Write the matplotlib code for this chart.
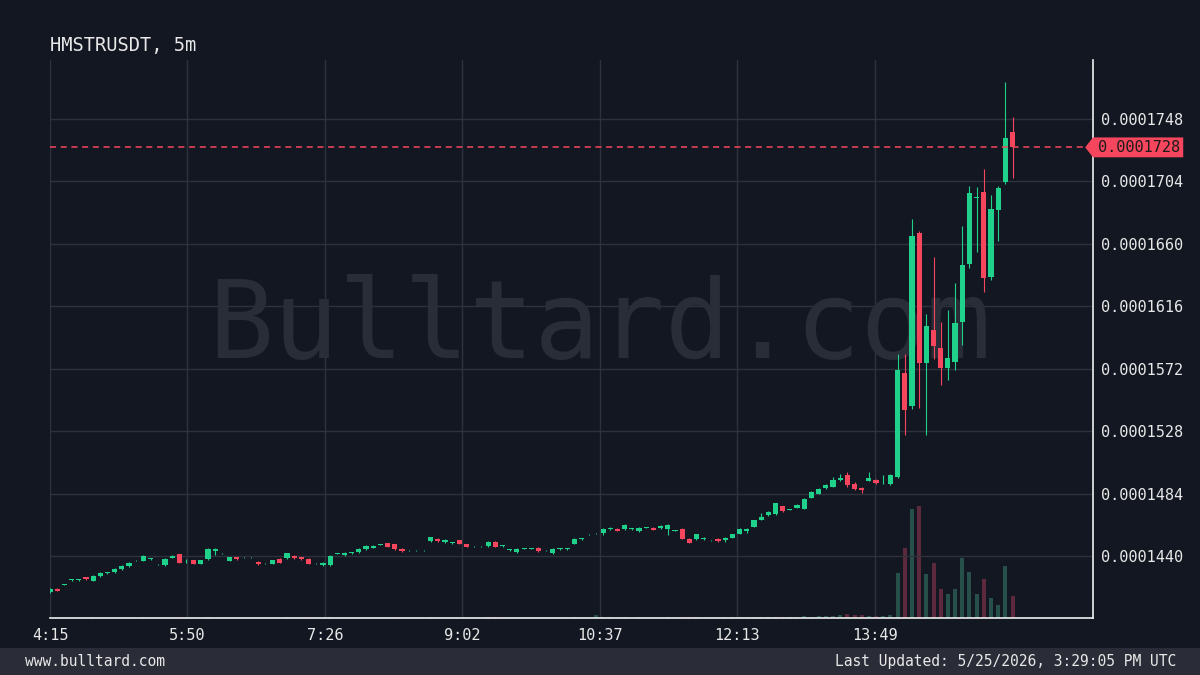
import matplotlib
matplotlib.use("Agg")
import matplotlib.pyplot as plt
import matplotlib.transforms as mtransforms
from matplotlib.patches import Polygon, Rectangle
import numpy as np

plt.rcParams['font.family'] = ['DejaVu Sans Mono', 'DejaVu Sans']

title = "HMSTRUSDT, 5m"
time_labels = ["4:15", "5:50", "7:26", "9:02", "10:37", "12:13", "13:49"]
price_levels = [1440, 1484, 1528, 1572, 1616, 1660, 1704, 1748]  # x 1e-7 USDT
last_price = 1728.0
footer_left = "www.bulltard.com"
footer_right = "Last Updated: 5/25/2026, 3:29:05 PM UTC"
watermark = "Bulltard.com"

# OHLC of the 5m candles from 4:15, prices in 1e-7 USDT
opens = [1415.0, 1417.3, 1420.2, 1423.3, 1423.4, 1425.4, 1423.0, 1426.3, 1428.3, 1428.9,
         1431.0, 1433.1, 1437.2, 1437.1, 1438.1, 1434.4, 1434.0, 1439.2, 1441.6, 1436.5,
         1437.3, 1434.9, 1438.0, 1443.9, 1442.2, 1437.1, 1439.4, 1439.3, 1439.3, 1436.3,
         1435.1, 1434.9, 1438.2, 1438.7, 1440.4, 1439.4, 1438.5, 1435.1, 1433.8, 1434.0,
         1441.9, 1440.9, 1442.4, 1443.0, 1445.1, 1446.2, 1448.2, 1449.3, 1448.6, 1445.5,
         1444.3, 1444.3, 1444.3, 1450.9, 1452.5, 1450.0, 1449.4, 1451.4, 1448.6, 1447.1,
         1447.1, 1447.2, 1450.4, 1447.3, 1444.5, 1443.0, 1445.4, 1445.4, 1446.3, 1444.3,
         1442.3, 1445.2, 1445.2, 1449.0, 1452.2, 1455.5, 1456.2, 1456.5, 1459.2, 1459.4,
         1459.2, 1459.3, 1457.7, 1460.2, 1460.3, 1460.1, 1459.2, 1458.1, 1459.4, 1452.5,
         1452.1, 1452.1, 1451.3, 1452.3, 1451.8, 1453.2, 1456.1, 1458.0, 1461.0, 1465.9,
         1469.0, 1469.9, 1475.3, 1472.9, 1474.2, 1473.7, 1481.4, 1484.2, 1488.0, 1489.1,
         1493.7, 1497.2, 1491.3, 1488.4, 1493.2, 1493.9, 1491.4, 1490.7, 1496.0, 1569.4,
         1546.2, 1667.5, 1576.0, 1599.5, 1586.6, 1572.9, 1577.1, 1604.9, 1645.9, 1692.4,
         1696.4, 1637.0, 1683.9, 1703.9, 1738.6]
closes = [1417.1, 1415.9, 1420.5, 1423.6, 1423.6, 1424.0, 1426.3, 1428.4, 1428.5, 1431.4,
          1433.5, 1435.6, 1437.4, 1440.6, 1438.3, 1434.6, 1438.5, 1440.6, 1435.6, 1436.7,
          1434.9, 1437.3, 1445.5, 1445.3, 1442.4, 1439.4, 1438.0, 1439.5, 1439.5, 1434.7,
          1435.3, 1437.3, 1435.6, 1442.3, 1438.8, 1438.0, 1434.9, 1435.3, 1435.4, 1440.4,
          1442.1, 1442.5, 1442.6, 1445.5, 1447.4, 1447.6, 1448.4, 1446.9, 1445.1, 1443.9,
          1444.5, 1444.5, 1444.5, 1453.5, 1450.9, 1451.6, 1449.6, 1449.0, 1446.9, 1447.3,
          1447.3, 1450.4, 1446.9, 1447.5, 1444.7, 1445.5, 1445.6, 1445.6, 1443.9, 1444.5,
          1445.3, 1445.4, 1445.4, 1452.5, 1452.4, 1455.7, 1456.4, 1459.4, 1460.3, 1458.0,
          1462.4, 1459.5, 1460.3, 1460.4, 1458.9, 1461.5, 1462.4, 1458.3, 1452.5, 1449.7,
          1455.6, 1453.2, 1451.5, 1450.9, 1453.2, 1455.6, 1459.4, 1459.4, 1465.5, 1467.8,
          1471.3, 1477.5, 1472.0, 1473.1, 1476.3, 1480.7, 1485.6, 1487.5, 1490.6, 1493.7,
          1495.3, 1490.3, 1487.7, 1487.0, 1495.3, 1491.5, 1491.6, 1497.4, 1571.3, 1543.1,
          1665.6, 1576.0, 1602.5, 1588.2, 1572.9, 1579.5, 1604.2, 1645.2, 1695.9, 1692.8,
          1636.3, 1684.4, 1699.6, 1734.4, 1728.0]
highs = [1417.5, 1417.7, 1420.9, 1424.0, 1424.0, 1425.8, 1426.7, 1428.8, 1428.9, 1431.8,
         1433.9, 1436.0, 1437.8, 1441.0, 1438.7, 1435.0, 1438.9, 1441.0, 1442.0, 1438.0,
         1437.7, 1437.7, 1445.9, 1445.7, 1442.8, 1439.8, 1439.8, 1439.9, 1439.9, 1436.7,
         1435.7, 1437.7, 1438.6, 1442.7, 1440.8, 1439.8, 1438.9, 1435.7, 1435.8, 1440.8,
         1442.5, 1442.9, 1443.0, 1445.9, 1447.8, 1448.0, 1448.8, 1449.7, 1449.0, 1445.9,
         1444.9, 1444.9, 1444.9, 1453.9, 1452.9, 1452.0, 1450.0, 1451.8, 1449.0, 1447.7,
         1447.7, 1450.8, 1450.8, 1447.9, 1445.1, 1445.9, 1446.0, 1446.0, 1446.7, 1444.9,
         1445.7, 1445.8, 1445.8, 1452.9, 1452.8, 1456.1, 1456.8, 1459.8, 1460.7, 1459.8,
         1462.8, 1459.9, 1460.7, 1460.8, 1460.7, 1461.9, 1462.8, 1458.7, 1459.8, 1452.9,
         1456.0, 1453.6, 1451.9, 1452.7, 1453.6, 1456.0, 1459.8, 1459.8, 1465.9, 1470.4,
         1471.7, 1477.9, 1475.7, 1473.5, 1476.7, 1481.1, 1486.0, 1487.9, 1491.0, 1496.0,
         1498.1, 1499.7, 1492.5, 1488.8, 1499.3, 1494.3, 1497.4, 1497.8, 1582.6, 1582.6,
         1677.4, 1669.0, 1610.7, 1650.6, 1605.0, 1613.5, 1632.3, 1672.7, 1700.8, 1700.3,
         1712.6, 1694.5, 1701.0, 1774.3, 1749.6]
lows = [1414.6, 1415.5, 1419.8, 1422.9, 1423.0, 1423.6, 1422.6, 1425.9, 1427.9, 1428.5,
        1430.6, 1432.7, 1436.8, 1436.7, 1437.7, 1434.0, 1433.6, 1438.8, 1435.2, 1435.6,
        1434.5, 1434.5, 1437.6, 1441.1, 1441.8, 1436.7, 1437.6, 1438.9, 1438.9, 1434.3,
        1434.7, 1434.5, 1435.2, 1438.3, 1438.4, 1437.6, 1434.5, 1434.7, 1433.4, 1433.6,
        1441.5, 1440.5, 1442.0, 1442.6, 1444.7, 1445.8, 1447.8, 1446.5, 1444.7, 1443.5,
        1443.9, 1443.9, 1443.9, 1450.5, 1450.5, 1449.6, 1449.0, 1448.6, 1446.5, 1446.7,
        1446.7, 1446.8, 1446.5, 1446.9, 1444.1, 1442.6, 1445.0, 1445.0, 1443.5, 1443.9,
        1441.9, 1444.8, 1444.8, 1448.6, 1451.8, 1455.1, 1455.8, 1455.2, 1458.8, 1457.6,
        1458.8, 1458.9, 1457.3, 1459.8, 1458.5, 1459.7, 1455.1, 1457.7, 1452.1, 1449.3,
        1451.7, 1451.7, 1450.9, 1450.5, 1450.0, 1452.8, 1455.7, 1456.3, 1460.6, 1465.5,
        1468.6, 1469.5, 1471.6, 1472.5, 1473.8, 1473.3, 1481.0, 1483.8, 1487.6, 1488.7,
        1493.3, 1488.9, 1486.5, 1484.7, 1492.8, 1491.1, 1491.0, 1490.3, 1495.0, 1525.5,
        1544.0, 1544.3, 1525.5, 1578.8, 1560.7, 1564.3, 1571.3, 1588.9, 1643.0, 1654.6,
        1626.4, 1634.7, 1662.3, 1702.0, 1706.3]
volumes = [0.4, 0.4, 0.3, 0.3, 0.3, 0.5, 0.6, 0.4, 0.3, 0.4,
           0.4, 0.4, 0.3, 0.6, 0.3, 0.3, 0.5, 0.4, 0.8, 0.3,
           0.5, 0.4, 0.9, 0.5, 0.3, 0.4, 0.4, 0.3, 0.3, 0.4,
           0.3, 0.4, 0.5, 0.6, 0.4, 0.4, 0.6, 0.3, 0.4, 0.9,
           0.3, 0.4, 0.3, 0.5, 0.5, 0.4, 0.3, 0.5, 0.6, 0.4,
           0.3, 0.3, 0.3, 0.7, 0.5, 0.4, 0.3, 0.5, 0.4, 0.3,
           0.3, 0.6, 0.6, 0.3, 0.3, 0.5, 0.3, 0.3, 0.5, 0.3,
           0.5, 0.3, 0.3, 0.8, 0.4, 0.5, 3.0, 0.8, 0.6, 0.5,
           0.7, 0.4, 0.6, 0.4, 0.5, 0.5, 0.9, 0.4, 1.2, 1.5,
           0.8, 0.5, 0.4, 0.5, 0.6, 0.7, 0.9, 1.2, 1.0, 0.9,
           0.8, 1.5, 0.9, 0.6, 0.8, 2.0, 1.2, 2.0, 2.5, 2.0,
           3.0, 4.0, 3.5, 3.0, 2.5, 2.0, 2.0, 3.0, 45.4, 70.4,
           108.7, 112.0, 44.4, 55.4, 28.7, 23.7, 29.4, 59.7, 46.0, 24.4,
           38.7, 20.4, 13.4, 51.7, 21.7]

BG = "#131722"
GRID = "#2e323d"
GREEN = "#1fd18b"
RED = "#f6465d"
VOL_GREEN = "#27504a"
VOL_RED = "#5c2a3c"
TXT = "#e8e8e8"

o = np.array(opens)
c = np.array(closes)
h = np.array(highs)
l = np.array(lows)
v = np.array(volumes)
t = np.arange(len(o)) * 5.0          # minutes since 4:15
up = c >= o
col = np.where(up, GREEN, RED)
vcol = np.where(up, VOL_GREEN, VOL_RED)

fig = plt.figure(figsize=(12, 6.75), dpi=100, facecolor=BG)
rect = [50 / 1200, 57 / 675, 1043 / 1200, 558 / 675]

# volume panel underneath
vax = fig.add_axes(rect, zorder=0)
vax.set_facecolor(BG)
vax.bar(t, v, width=2.8, color=vcol, zorder=2)
vax.set_xlim(0, 726)
vax.set_ylim(0, 558)
vax.axis("off")

ax = fig.add_axes(rect, zorder=1)
ax.patch.set_alpha(0)

# candles
ax.vlines(t, l, h, colors=col, linewidth=0.8, zorder=3)
body = np.maximum(np.abs(c - o), 0.6)
ax.bar(t, body, bottom=np.minimum(o, c), width=3.6, color=col, zorder=4)

ax.set_xlim(0, 726)
ax.set_ylim(1396.7, 1789.5)

xt = np.arange(len(time_labels)) * 95.7
ax.set_xticks(xt)
ax.set_xticklabels(time_labels)
ax.yaxis.tick_right()
ax.set_yticks(price_levels)
ax.set_yticklabels([f"{p * 1e-7:.7f}" for p in price_levels])
ax.tick_params(axis="both", length=0, colors=TXT, labelsize=11)
ax.tick_params(axis="x", pad=7)
ax.tick_params(axis="y", pad=5.5)
ax.grid(True, color=GRID, linewidth=1, zorder=0)
ax.set_axisbelow(True)

for s in ["left", "top"]:
    ax.spines[s].set_visible(False)
for s in ["right", "bottom"]:
    ax.spines[s].set_color("#f0f0f0")
    ax.spines[s].set_linewidth(1.2)

# watermark
ax.text(0.527, 0.52, watermark, transform=ax.transAxes, ha="center", va="center",
        fontsize=78, color="#292d37", zorder=1)

# last price line + label
ax.axhline(last_price, xmax=0.992, color=RED, linewidth=1.1, linestyle=(0, (4, 3)), zorder=5)
tr = mtransforms.blended_transform_factory(ax.transAxes, ax.transData)
hh = 7.0
tag = Polygon([(0.9925, last_price), (1.0, last_price + hh), (1.0865, last_price + hh),
               (1.0865, last_price - hh), (1.0, last_price - hh)],
              closed=True, transform=tr, facecolor=RED, edgecolor="none", clip_on=False, zorder=6)
ax.add_patch(tag)
ax.text(1.0045, last_price, f"{last_price * 1e-7:.7f}", transform=tr, ha="left", va="center",
        fontsize=11, color="#1b1b1b", zorder=7, clip_on=False)

# title and footer
fig.text(50 / 1200, 1 - 45 / 675, title, ha="left", va="center", fontsize=13.5, color=TXT)
fig.patches.append(Rectangle((0, 0), 1, 27 / 675, transform=fig.transFigure,
                             facecolor="#2a2d37", edgecolor="none", zorder=0))
fig.text(25 / 1200, 13.5 / 675, footer_left, ha="left", va="center", fontsize=10.5, color=TXT)
fig.text(1176 / 1200, 13.5 / 675, footer_right, ha="right", va="center", fontsize=10.5, color=TXT)

fig.savefig("out.png", dpi=100, facecolor=BG)
